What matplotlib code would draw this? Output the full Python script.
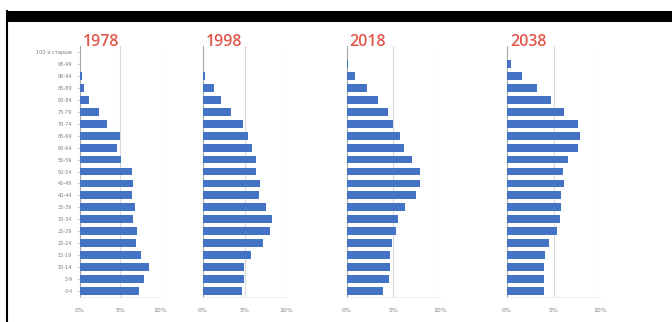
import matplotlib
matplotlib.use("Agg")
import matplotlib.pyplot as plt
from matplotlib.lines import Line2D
from matplotlib.patches import Rectangle

plt.rcParams['font.family'] = ['DejaVu Sans', 'Noto Sans CJK KR']

# age groups, bottom to top
age_groups = ["0-4", "5-9", "10-14", "15-19", "20-24", "25-29", "30-34", "35-39",
              "40-44", "45-49", "50-54", "55-59", "60-64", "65-69", "70-74",
              "75-79", "80-84", "85-89", "90-94", "95-99", "100 и старше"]

years = ["1978", "1998", "2018", "2038"]

share_1978 = [7.3, 7.9, 8.5, 7.6, 7.0, 7.1, 6.6, 6.8, 6.5, 6.6, 6.4, 5.1, 4.6, 4.9,
              3.4, 2.3, 1.15, 0.55, 0.2, 0.0, 0.0]
share_1998 = [4.7, 4.95, 4.95, 5.75, 7.2, 8.0, 8.25, 7.5, 6.7, 6.8, 6.3, 6.3, 5.8, 5.4,
              4.75, 3.3, 2.15, 1.3, 0.25, 0.0, 0.0]
share_2018 = [3.9, 4.55, 4.65, 4.65, 4.85, 5.25, 5.5, 6.2, 7.4, 7.9, 7.9, 7.0, 6.15, 5.75,
              5.0, 4.45, 3.4, 2.15, 0.9, 0.15, 0.05]
share_2038 = [3.95, 3.95, 4.0, 4.1, 4.5, 5.35, 5.7, 5.8, 5.85, 6.1, 6.05, 6.6, 7.65, 7.85,
              7.6, 6.1, 4.7, 3.2, 1.6, 0.4, 0.0]

x_ticks = [0, 5, 10]
x_tick_labels = ["0%", "5%", "10%"]

series = [share_1978, share_1998, share_2018, share_2038]

W, H = 672, 322
fig = plt.figure(figsize=(W / 100, H / 100), dpi=100)
fig.patch.set_facecolor("white")

# frame decorations
fig.add_artist(Rectangle((7 / W, 1 - 22 / H), 1 - 7 / W, 11 / H,
                         transform=fig.transFigure, color="black", lw=0))
fig.add_artist(Line2D([7 / W, 7 / W], [0, 1 - 11 / H], transform=fig.transFigure,
                      color="black", lw=1.5))

# panel pixel geometry: (x of 0%, x of 10%)
panels = [(80, 160.7), (203, 286.7), (346.7, 440), (507, 600)]
y_top, y_bot = 46, 297

bar_color = "#4472C4"
title_color = "#E2574C"
grid_color = "#D9D9D9"
label_color = "#7F7F7F"

ypos = list(range(len(age_groups)))

for i, (vals, (x0, x10)) in enumerate(zip(series, panels)):
    ax = fig.add_axes([x0 / W, (H - y_bot) / H, (x10 - x0) / W, (y_bot - y_top) / H])
    ax.set_facecolor("none")
    ax.barh(ypos, vals, height=0.66, color=bar_color, zorder=3)
    ax.set_xlim(0, 10)
    ax.set_ylim(-0.5, len(age_groups) - 0.5)
    ax.set_xticks(x_ticks)
    ax.set_xticklabels(x_tick_labels, fontsize=4.5, color=label_color)
    for g in x_ticks[1:]:
        ax.axvline(g, color=grid_color, lw=0.8, zorder=1)
    ax.tick_params(axis="x", length=0, pad=8)
    ax.tick_params(axis="y", length=2, width=0.5, color="#BFBFBF")
    for s in ["top", "right"]:
        ax.spines[s].set_visible(False)
    ax.spines["bottom"].set_color("#EDEDED")
    ax.spines["bottom"].set_linewidth(0.6)
    ax.spines["left"].set_color("#A6A6A6")
    ax.spines["left"].set_linewidth(0.8)
    ax.set_yticks(ypos)
    if i == 0:
        ax.set_yticklabels(age_groups, fontsize=3.6, color=label_color)
    else:
        ax.set_yticklabels([])
        ax.tick_params(axis="y", length=0)
    fig.text((x0 + 3) / W, 1 - 42 / H, years[i], color=title_color, fontsize=11.5,
             family=["Open Sans", "DejaVu Sans"], fontweight="semibold",
             va="center", ha="left")

fig.savefig("out.png", dpi=100, facecolor="white")
